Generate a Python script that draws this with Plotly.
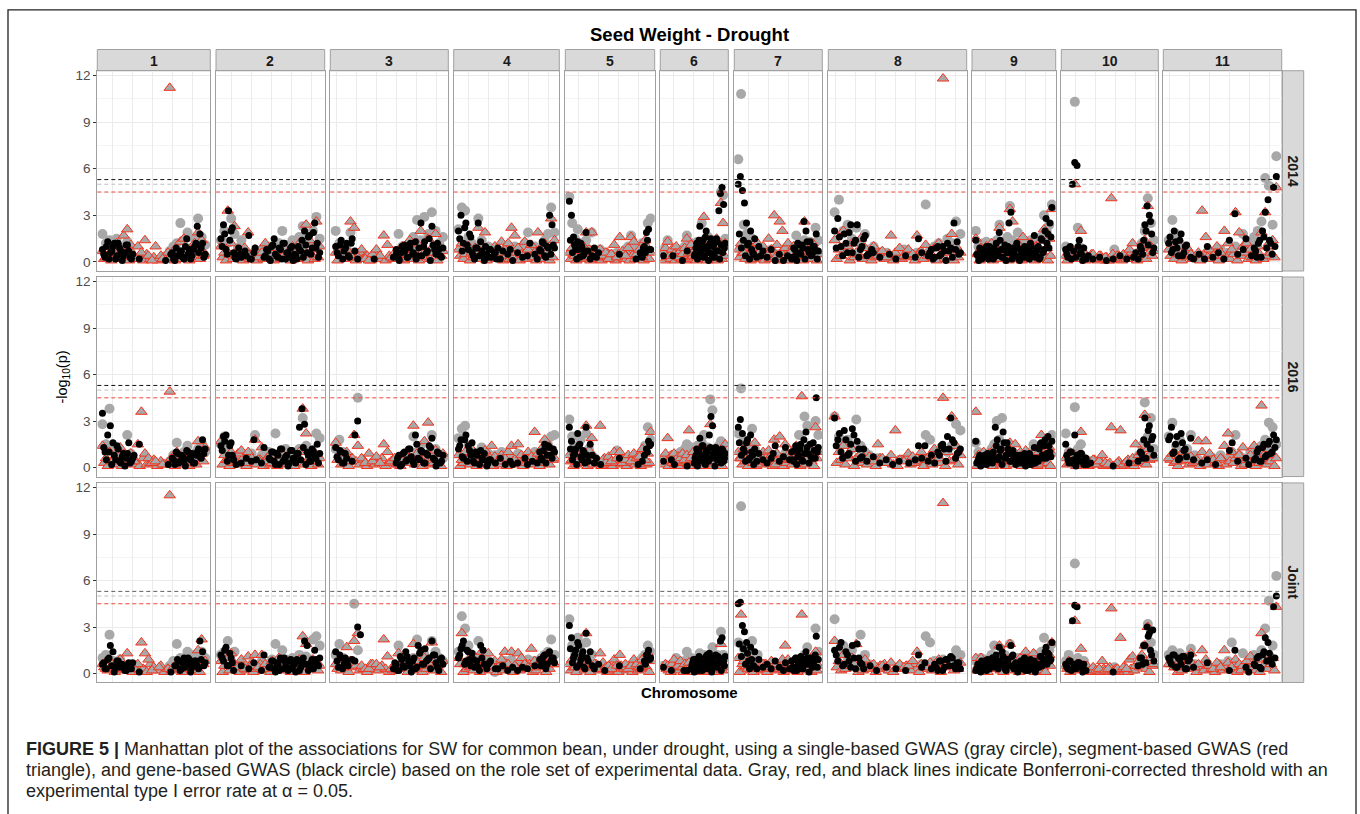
import plotly.graph_objects as go

_ = None  # no marker at this position

# ---------------------------------------------------------------- data
CHROMOSOMES = ["1", "2", "3", "4", "5", "6", "7", "8", "9", "10", "11"]
ENVIRONMENTS = ["2014", "2016", "Joint"]
Y_TICKS = [0, 3, 6, 9, 12]
THRESHOLD_GENE = 5.3      # black dashed line
THRESHOLD_SINGLE = 5.0    # gray dashed line
THRESHOLD_SEGMENT = 4.5   # red dashed line

# -log10(p) x 10, evenly spaced along each chromosome; _ = no point
GENE_2014 = [
    [8,3,13,6,10,2,12,7,4,11, 7,2,_,_,2,_,_,_,_,_, _,_,_,_,1,_,5,2,9,4, 7,2,15,8,4,10,23,18,12,5],
    [15,24,8,33,20,6,2,9,3,_, 4,17,2,6,_,_,_,3,8,2, 10,15,4,9,2,12,6,3,10,5, 2,8,14,20,6,17,9,25,12,6],
    [10,4,14,7,12,3,15,7,2,_, _,_,_,_,2,_,_,_,_,_, _,3,8,2,6,11,3,9,5,13, 4,25,10,6,15,23,8,12,4,9],
    [20,30,12,25,8,16,4,9,25,13, 5,10,3,8,_,6,9,2,7,_, 5,8,1,_,6,_,3,_,4,12, _,5,2,8,13,4,10,30,24,9],
    [39,30,16,8,13,3,10,5,19,7, 2,4,9,3,6,_,_,_,_,_, _,_,_,_,5,_,_,_,_,_, _,_,2,_,6,3,10,19,21,8],
    [4,_,_,_,_,_,4,_,_,_, _,_,1,_,_,7,_,_,_,_, 5,12,3,23,8,14,4,20,10,6, 15,3,12,7,13,33,44,48,37,12],
    [50,55,46,38,25,12,20,6,15,3, 10,4,7,_,3,_,8,_,1,_, 5,_,1,_,4,_,2,9,4,12, 6,11,26,20,8,13,5,10,18,7],
    [20,28,10,18,6,24,12,24,8,15, 4,_,6,_,3,_,_,5,_,2, _,_,4,_,_,3,15,6,_,4, 8,3,10,5,7,12,9,25,13,6],
    [14,4,9,2,6,8,3,10,5,2, 7,4,19,8,3,11,6,25,32,9, 4,12,2,8,5,10,3,7,12,4, 17,6,10,3,14,8,28,18,25,35],
    [8,3,10,50,64,62,14,5,9,2, 4,_,2,_,_,3,_,_,1,_, _,2,_,_,4,_,_,2,_,_, 3,6,2,10,5,24,36,30,18,9],
    [12,6,20,9,14,4,10,_,3,2, _,5,_,2,10,_,3,_,6,_, 2,_,14,_,31,5,_,8,15,_, 4,9,3,14,20,32,40,12,48,55],
]
# further gene-based points in the dense clusters (between the positions above)
GENE_2014_DENSE = [
    [5,10,2,7,12,4,9,1,6,11,3,5, *[_]*14, 6,1,4,7,3,10,5,2,8,12,6,9,3],
    [10,18,5,14,22, 3,_,5,_,7,_,2,_,9, _,_,_, 4,7,1,11,5,3,8,12,2,6,9,1,4,10,7,3, 11,16,5,19,9,3],
    [6,11,2,9,4,12, *[_]*15, 5,1,10,7,3,12,6,2,9,4,13,7,1,11,5,8,3],
    [15,7,22,11,18, 6,2,9,4,7,1,5,8,3,6,2, *[_]*17, 7,12,3,9,5,11],
    [14,6,11,2,8,12,4,7, *[_]*26, 4,9,6,14,8],
    [*[_]*19, 4,9,2,14,6,11,3,16,8,1,12,5,10,3,15,7,2,11,6,9],
    [18,9,14,4,11,2,8,5, *[_]*18, 3,8,1,11,5,9,2,13,6,4,10,7,2],
    [9,16,4,12,19,6,14,3,10,17,5,8, *[_]*17, 6,2,9,4,10,1,7,3,8,5],
    [5,1,8,3,6,10,2,7,4,9, 12,5,14,3,8,1,10,6,2,7, 4,9,1,6,3,8,5,2,10,6, 3,8,2,15,6,20,12,9,16],
    [5,9,2,7,3,10,6,1, *[_]*25, 8,14,20,11,26,6],
    [16,8,13,4,18,6,11, *[_]*24, 7,12,3,16,9,14,5,10],
]
SINGLE_2014 = [
    [18,12,14,10,15,8,9,13,6,_, _,3,_,_,_,_,_,_,4,7, 10,12,25,14,19,9,15,28,16,11],
    [14,20,12,28,18,9,14,6,_,5, _,_,8,_,10,6,9,12,20,11, 8,14,10,16,23,18,12,20,29,15],
    [20,12,10,8,19,6,_,4,_,_, _,_,_,_,_,3,_,18,10,8, 12,16,27,14,29,18,32,20,12,16],
    [21,35,33,16,12,10,28,14,8,10, 6,9,5,7,4,8,5,10,6,8, 12,19,8,10,6,9,14,18,35,19],
    [42,25,15,21,12,9,14,8,19,6, 4,8,_,_,3,5,_,6,4,_, 8,10,17,9,6,10,12,8,25,28],
    [8,5,14,6,_,3,8,_,5,_, 10,17,6,12,8,10,13,9,25,14, 10,16,12,8,14,10,12,45,43,15],
    [66,108,24,18,12,15,8,10,5,6, 4,_,8,_,5,_,3,_,6,_, 8,17,12,6,14,10,13,9,22,14],
    [32,40,20,24,15,22,12,18,8,10, 5,_,6,_,4,_,8,_,4,6, 5,37,8,10,12,9,15,12,26,18],
    [20,10,8,12,13,6,9,10,14,24, 12,8,16,36,14,9,19,8,12,10, 7,14,9,12,8,16,30,20,24,37],
    [10,6,8,103,22,9,5,_,3,_, _,_,2,_,_,_,8,_,_,3, _,_,4,_,6,12,20,41,25,14],
    [14,27,18,12,10,6,_,4,_,_, 3,_,5,_,8,_,6,_,10,_, 18,8,12,16,20,26,54,49,24,68],
]
SEGMENT_2014 = [
    [7,3,10,6,12,8,17,21,11,4, 10,6,14,4,1,10,_,2,_,112, 7,5,13,15,6,9,12,19,14,5],
    [10,6,33,12,23,8,5,9,19,4, 8,3,6,12,5,9,4,7,3,8, 6,10,4,12,9,24,14,8,26,10],
    [6,10,4,8,26,22,3,8,2,1, 5,8,4,17,11,3,6,2,10,5, 14,8,12,20,6,15,9,18,10,7],
    [8,12,5,10,6,9,22,11,19,7, 4,10,6,13,8,12,22,17,9,5, 13,8,11,6,19,9,12,7,28,14],
    [6,9,4,12,7,10,19,8,19,5, 3,8,4,6,2,5,11,3,16,7, 4,9,16,13,5,8,3,14,9,6],
    [6,9,13,4,8,5,10,3,7,5, 9,15,6,11,4,8,10,7,12,29, 9,14,8,12,10,15,11,38,25,12],
    [8,12,6,10,4,9,5,12,7,10, 6,15,8,30,11,26,20,9,12,6, 10,5,8,4,26,9,6,12,8,5],
    [14,8,20,10,12,6,15,9,5,10, 4,7,3,17,6,9,4,8,5,17, 7,11,6,9,12,118,8,18,10,6],
    [15,6,9,4,10,7,12,5,8,22, 6,10,7,34,26,8,12,5,16,9, 7,12,6,10,8,14,21,9,15,34],
    [4,8,6,50,9,20,6,3,2,5, 2,4,2,3,1,41,2,4,3,5, 2,8,12,4,6,9,14,36,10,7],
    [8,12,6,10,4,9,5,_,6,33, 16,8,4,10,6,20,12,8,32,19, 10,12,8,6,10,19,32,12,14,48],
]
# low-lying segment-based points (between the positions above)
SEGMENT_2014_DENSE = [
    [2,4,1,3,5,2,6,1,3,2,4,1,5,2,3,1,4,2,6,3,1,5,2,4,1,3,6,2,4],
    [3,1,5,2,4,6,1,3,2,5,1,4,2,6,3,1,4,2,5,3,1,6,2,4,3,1,5,2,3],
    [1,4,2,5,3,1,6,2,4,1,3,5,2,1,4,2,6,3,1,5,2,4,1,3,5,2,6,1,4],
    [4,2,6,1,3,5,2,4,1,6,3,2,5,1,4,2,3,6,1,5,2,4,3,1,6,2,4,1,3],
    [2,5,1,4,2,6,3,1,5,2,4,1,3,6,2,4,1,5,3,2,6,1,4,2,5,3,1,4,2],
    [1,3,5,2,4,1,6,3,2,5,1,4,2,3,6,1,4,2,5,3,1,4,6,2,3,1,5,2,4],
    [3,6,2,4,1,5,2,3,6,1,4,2,5,3,1,6,2,4,1,3,5,2,4,1,6,3,2,5,1],
    [2,4,6,1,3,5,2,4,1,3,6,2,5,1,4,2,3,5,1,6,2,4,3,1,5,2,6,1,3],
    [5,1,3,6,2,4,1,5,3,2,4,6,1,3,5,2,4,1,6,2,3,5,1,4,2,6,3,1,4],
    [1,5,3,2,6,4,1,3,5,2,1,4,2,3,1,5,2,4,1,3,2,6,4,1,5,3,2,6,4],
    [4,2,5,1,3,6,2,4,1,5,3,2,6,1,4,3,2,5,1,4,6,2,3,1,5,2,4,6,3],
]

GENE_2016 = [
    [35,10,21,27,16,5,12,3,9,6, 16,4,8,_,15,_,_,_,_,_, _,_,_,_,_,2,_,5,10,3, 8,4,11,6,9,3,10,7,18,12],
    [14,20,21,8,16,5,2,_,3,_, 6,_,4,18,5,_,3,13,_,6, 10,4,9,2,12,5,8,3,11,6, 9,26,38,28,10,4,12,7,15,9],
    [13,5,10,3,6,_,4,21,30,_, _,_,_,_,_,_,_,_,_,_, _,_,3,8,2,10,5,12,4,21, 6,11,3,9,14,19,5,10,3,8],
    [12,18,6,21,14,8,4,10,_,11, 5,_,3,5,_,3,_,6,_,2, _,4,2,_,3,_,_,6,2,_, 4,_,3,10,5,15,8,13,6,10],
    [26,17,8,12,22,15,5,10,26,4, 15,8,3,6,_,2,_,_,_,_, _,_,_,_,6,_,_,_,_,_, _,_,_,2,_,4,8,12,17,15],
    [4,_,_,_,_,5,_,2,_,_, _,_,_,_,_,1,_,_,_,_, 6,12,4,19,8,14,3,11,6,21, 33,27,9,13,5,10,7,12,4,9],
    [26,31,22,10,16,5,21,8,12,4, 9,_,5,_,3,_,6,9,14,_, 4,_,7,13,_,5,10,4,14,7, 12,5,18,23,9,15,6,11,45,13],
    [32,18,10,24,8,15,21,17,6,12, 4,_,7,_,3,_,5,_,2,_, 4,_,_,3,_,5,14,6,14,4, 8,3,10,14,12,20,32,16,9,12],
    [17,4,8,2,6,3,9,5,4,10, 26,18,7,12,23,6,16,9,4,11, 5,8,3,6,4,9,5,2,7,3, 13,6,4,15,8,14,6,20,10,17],
    [15,5,10,3,21,8,4,9,2,6, _,3,_,_,_,_,_,_,_,_, _,1,_,_,_,_,_,_,3,_, _,_,4,10,6,32,15,27,18,8],
    [18,26,10,20,6,16,12,_,19,5, _,_,3,_,5,_,_,2,_,_, _,_,11,16,_,4,_,_,6,2, _,5,10,4,13,7,15,9,21,18],
]
GENE_2016_DENSE = [
    [13,5,10,2,8,14,4,7,1,9,3,6, *[_]*14, 6,2,9,4,7,1,10,5,3,8,12,6,9],
    [11,17,4,14,8, *[_]*14, 5,10,2,8,12,4,7,1,11,6,3,9,5,13,2,8,4,10,6,3],
    [7,11,3,9, *[_]*18, 6,1,9,4,12,7,2,15,5,10,3,8,13,6,1,9,4],
    [14,7,18,4,11,16, 3,8,2,6,9,1,5, *[_]*20, 6,11,3,14,8,12],
    [12,5,9,2,14,7,11,3,8, *[_]*28, 10,14],
    [*[_]*19, 3,8,1,11,5,14,7,2,10,4,13,6,9,1,12,5,8,3,11,6],
    [16,8,12,4,18,6,10,2, *[_]*18, 5,11,2,8,15,4,9,13,3,7,16,6,10],
    [14,22,6,18,9,25,4,12,7, *[_]*23, 8,15,4,12,18,6,10],
    [3,6,1,4,8,2,5,7,3,6, 14,5,11,2,16,8,12,4,9, 6,2,5,8,3,7,1,4,9,2,6,3,5, 12,16,6,18,9,14,7],
    [8,3,10,5,1,7,9,4,6,2, *[_]*23, 9,18,6,24,12,20],
    [20,9,15,5,22,11,7, *[_]*24, 6,12,4,15,8,17,10,13],
]
SINGLE_2016 = [
    [28,15,38,12,8,10,6,21,9,_, _,_,_,_,_,_,_,_,_,4, 8,16,6,10,14,7,9,12,16,10],
    [15,20,12,8,_,4,_,6,_,9, 21,5,8,_,10,6,22,9,7,12, 6,10,8,12,32,14,9,10,22,19],
    [12,18,10,6,4,_,45,_,_,_, _,_,_,_,_,_,_,4,_,8, 5,20,10,14,6,9,21,12,8,6],
    [19,25,27,14,10,8,5,13,6,9, 4,8,5,10,6,4,7,5,9,6, 4,8,6,10,5,8,12,15,20,21],
    [31,20,14,10,18,9,22,12,8,6, 4,_,_,3,_,_,_,11,_,5, _,_,_,6,_,8,10,14,26,18],
    [6,_,4,_,8,_,5,_,10,6, 12,15,8,13,10,9,14,12,16,21, 10,13,44,37,12,10,14,17,11,8],
    [22,51,18,14,10,25,12,8,6,_, 5,_,8,_,6,_,4,9,_,6, 8,12,21,10,33,27,14,12,30,21],
    [33,20,15,18,12,31,14,10,8,_, 6,_,4,_,_,5,_,6,_,4, 8,21,18,9,6,12,10,14,28,24],
    [16,10,6,8,5,9,12,15,30,18, 32,14,10,8,6,9,5,8,6,4, 7,10,15,6,9,5,12,14,18,21],
    [22,10,8,39,12,15,6,_,4,_, _,_,_,_,_,_,_,_,_,_, _,_,_,4,8,14,42,20,32,12],
    [20,29,14,18,10,12,21,8,5,_, 4,_,6,_,8,_,5,10,21,8, 6,4,10,12,10,14,18,29,26,15],
]
SEGMENT_2016 = [
    [14,6,10,4,8,13,5,7,9,4, 15,36,9,6,3,4,_,2,_,49, 3,10,5,7,4,8,6,17,9,13],
    [17,8,5,10,4,9,11,3,10,6, 18,5,13,4,7,3,8,5,9,4, 6,8,5,10,38,22,6,11,8,6],
    [16,8,5,10,4,21,14,6,3,9, 4,7,3,15,10,4,6,2,5,8, 6,27,9,5,17,29,8,11,6,9],
    [8,5,10,6,12,4,9,6,11,5, 14,7,4,8,6,10,14,5,15,8, 6,10,7,23,9,12,18,8,10,6],
    [8,5,10,4,7,9,27,11,19,6, 4,27,5,3,7,4,10,6,10,3, 5,8,4,9,6,7,12,5,9,23],
    [6,9,19,5,8,9,4,7,6,9, 5,8,24,6,10,4,8,12,6,9, 11,7,28,10,8,12,6,9,7,15],
    [10,6,12,8,5,9,16,7,4,10, 6,11,8,18,9,20,6,15,8,5, 10,14,7,46,9,6,12,8,26,10],
    [33,10,14,8,12,6,9,5,7,4, 15,6,3,8,24,5,4,9,7,6, 10,5,8,12,6,45,10,33,14,8],
    [36,8,5,10,6,9,4,12,7,10, 5,8,6,16,9,15,6,10,4,11, 7,5,9,6,10,21,8,12,13,9],
    [6,9,4,8,5,23,6,3,2,5, 2,4,8,3,2,26,1,3,24,2, 4,3,6,15,8,10,34,12,9,6],
    [6,9,4,8,10,5,7,4,17,10, 17,9,5,3,6,14,22,10,6,8, 13,5,8,14,6,40,9,12,8,6],
]
SEGMENT_2016_DENSE = [
    [3,1,4,2,6,1,5,3,2,4,1,6,2,3,5,1,4,2,3,6,1,4,2,5,1,3,2,6,4],
    [2,5,1,3,4,2,6,1,4,3,2,5,1,6,2,4,1,3,5,2,4,1,6,3,2,5,1,4,2],
    [5,2,3,1,6,4,2,5,1,3,2,4,6,1,3,5,2,1,4,3,6,2,5,1,4,2,3,5,1],
    [1,3,6,2,4,1,5,2,3,6,1,4,2,5,1,3,4,2,6,1,3,5,2,4,1,6,3,2,5],
    [4,1,2,5,3,6,1,4,2,5,3,1,6,2,4,1,3,5,2,6,1,4,3,2,5,1,6,2,3],
    [2,6,1,4,3,2,5,1,6,3,4,2,1,5,3,6,2,4,1,3,5,2,6,1,4,2,3,1,5],
    [6,2,4,1,5,3,1,6,2,4,3,5,1,2,6,4,1,3,5,2,4,6,1,3,2,5,4,1,6],
    [3,5,2,6,1,4,3,2,5,1,6,3,4,2,1,5,6,2,3,4,1,5,2,6,3,1,4,5,2],
    [1,4,6,3,2,5,1,4,6,2,3,1,5,4,2,6,3,1,4,5,2,3,6,1,2,4,5,3,1],
    [2,3,5,1,4,6,2,1,3,5,2,4,1,2,3,1,2,4,1,3,5,2,1,6,3,4,2,5,6],
    [5,3,1,4,6,2,3,5,1,4,2,6,3,1,5,2,4,3,6,1,2,5,4,1,3,6,2,4,1],
]

GENE_JOINT = [
    [6,3,9,18,14,4,8,5,_,2, 7,3,_,_,1,_,_,_,_,_, _,_,_,_,_,_,1,_,5,8, 3,10,6,9,4,8,5,21,14,7],
    [12,8,17,5,10,2,_,_,5,_, _,3,_,7,_,_,2,12,_,4, 8,3,7,2,9,10,4,8,3,6, 9,2,7,21,18,5,9,15,6,10],
    [14,4,10,6,8,_,9,8,30,25, _,_,_,_,_,_,_,_,_,_, _,3,6,2,9,4,11,5,8,3, 18,15,6,8,10,21,12,4,9,6],
    [10,16,21,8,14,5,9,_,4,18, 15,_,6,8,_,3,3,_,5,_, 2,_,4,_,2,_,4,_,3,_, _,5,_,9,8,12,6,14,10,7],
    [31,23,10,15,20,6,12,4,26,8, 14,5,3,_,6,_,_,2,_,_, _,_,_,_,5,_,_,_,_,_, _,_,_,_,3,_,8,12,15,10],
    [4,_,_,_,_,2,_,_,_,_, _,_,_,2,_,2,_,_,5,9, 3,7,2,10,5,8,3,11,6,13, 4,9,6,12,5,10,21,23,8,11],
    [45,46,31,27,20,8,17,5,14,3, 9,_,4,_,6,_,3,_,8,_, 4,_,2,7,_,3,8,2,10,5, 7,3,9,14,6,10,4,8,24,9],
    [15,8,20,6,12,4,10,19,7,3, _,5,_,2,_,_,4,_,_,3, _,_,2,_,_,_,12,4,7,_, 3,6,2,8,4,9,11,5,7,3],
    [2,6,3,8,4,5,9,3,7,10, 4,8,17,6,11,3,9,5,18,12, 6,4,5,8,3,10,6,2,9,4, 8,3,6,11,5,9,17,13,8,20],
    [6,3,8,34,44,43,7,4,6,2, _,_,_,_,_,_,_,_,_,_, _,1,_,_,_,_,_,_,_,_, _,_,5,10,6,18,30,26,12,8],
    [10,6,12,4,9,11,3,8,12,4, _,_,_,_,7,_,_,_,_,_, _,_,2,_,15,_,_,_,4,1, _,6,10,4,12,23,20,9,43,50],
]
GENE_JOINT_DENSE = [
    [7,3,10,5,1,8,4, 6,2,5,3,7, *[_]*15, 5,9,2,7,4,10,1,6,8,3,9,5],
    [10,15,5,13,7, *[_]*14, 4,8,1,6,10,3,7,2,9,5,1,8,4,10,6,2,7,3,9,5],
    [8,12,3,10,5, *[_]*16, 7,2,11,5,14,8,1,10,4,13,6,16,9,3,12,7,2,10],
    [12,18,6,15,9,13, 4,8,2,10,6,3,7, *[_]*20, 5,11,3,13,8,10],
    [16,7,12,4,18,9,14,3,10, *[_]*27, 6,12,9],
    [*[_]*17, 3,7,1,9,4,11,6,2,8,5,12,3,9,1,10,6,4,11,7,2,8,5],
    [19,11,16,6,13,3,9,5, *[_]*18, 4,9,2,7,11,3,6,10,1,8,5,12,4],
    [12,17,5,14,8,18,3,10,6, *[_]*22, 4,8,2,9,5,10,3,7],
    [3,6,1,5,8,2,7,4,10,5, 12,3,8,14,6,2,9,5,11,3, 7,1,6,4,9,2,8,5,3,7, 1,6,4,11,8,14,6,12,9],
    [4,8,2,6,3,7,5,1, *[_]*25, 10,18,7,24,15,28],
    [8,12,4,10,6,11,3,9, *[_]*23, 5,11,3,14,8,13,6,10],
]
SINGLE_JOINT = [
    [10,12,25,8,6,9,4,_,_,_, _,_,_,_,_,_,_,_,_,5, 8,19,10,6,14,9,12,8,14,10],
    [12,14,21,8,14,5,_,4,_,6, _,4,8,_,6,9,19,8,15,9, 6,10,7,12,8,11,9,22,24,18],
    [12,19,10,6,8,45,15,_,_,_, _,_,_,_,_,_,_,18,6,9, 5,10,22,8,12,9,21,14,10,8],
    [14,37,29,18,12,10,21,9,6,8, 5,1,6,4,8,5,9,6,4,7, 5,9,6,8,5,10,12,14,22,12],
    [35,18,12,23,15,10,20,8,12,6, 4,_,_,3,_,_,_,5,_,_, _,_,3,_,5,8,10,12,18,14],
    [5,_,4,_,6,_,10,_,6,4, 8,14,6,10,7,9,8,13,10,12, 9,11,8,17,10,12,9,27,12,10],
    [20,108,16,12,10,21,8,12,6,_, 4,_,6,_,5,_,3,_,5,_, 6,9,5,10,12,17,8,10,29,14],
    [35,14,18,10,15,8,25,12,6,_, 4,_,3,_,_,5,_,_,4,_, 6,24,20,8,5,9,7,10,15,12],
    [8,5,10,6,9,4,12,18,8,10, 6,12,9,19,8,6,10,5,8,9, 6,10,8,12,9,14,23,12,15,19],
    [8,12,6,71,10,5,8,3,_,_, _,_,_,_,_,_,4,_,_,_, _,_,_,3,6,10,18,32,20,12],
    [12,15,10,13,8,11,16,6,4,_, 5,_,3,_,6,_,8,20,5,_, 13,6,9,12,10,15,29,47,18,63],
]
SEGMENT_JOINT = [
    [6,3,8,4,6,9,4,13,5,3, 6,20,13,9,2,_,4,_,_,115, 4,6,3,8,5,7,4,15,22,8],
    [8,5,10,13,6,4,9,3,11,5, 12,4,12,6,3,8,5,10,4,7, 3,8,5,9,24,19,6,9,7,5],
    [6,9,4,17,8,21,26,5,3,3, 6,6,4,22,11,3,5,13,4,8, 6,19,8,5,10,7,20,9,6,8],
    [10,26,6,9,5,8,4,14,6,13, 5,8,4,9,14,6,14,5,13,10, 6,4,16,8,5,9,11,7,10,6],
    [6,9,4,8,5,10,26,7,4,6, 3,13,7,4,5,3,9,5,12,4, 6,3,5,9,6,4,9,5,13,8],
    [4,6,5,3,6,9,4,5,8,4, 6,3,7,5,4,6,3,5,4,7, 5,3,6,4,8,5,7,19,6,4],
    [10,38,8,5,9,4,7,3,5,6, 6,4,8,3,6,4,9,18,9,5, 7,4,6,38,5,8,4,6,14,5],
    [21,8,12,6,10,19,5,9,4,6, 3,5,4,7,3,6,4,5,8,14, 6,4,7,5,9,110,6,8,5,7],
    [10,5,10,4,7,5,9,6,8,18, 7,5,9,19,6,8,5,10,6,14, 5,8,13,6,9,5,10,8,12,20],
    [5,8,4,34,6,16,3,5,2,4, 2,3,8,2,3,42,2,3,23,4, 3,9,11,5,8,12,18,30,10,6],
    [6,9,4,8,10,5,13,4,6,15, 9,5,3,7,4,15,7,4,9,6, 5,8,11,6,9,26,12,8,10,43],
]
SEGMENT_JOINT_DENSE = [
    [4,2,5,1,3,6,2,4,1,5,2,3,1,6,4,2,5,1,3,2,4,6,1,5,3,2,4,1,6],
    [1,5,2,6,3,1,4,2,5,1,3,6,2,4,1,5,3,2,6,4,1,3,5,2,1,4,6,3,2],
    [3,2,6,1,4,5,2,3,1,6,4,2,5,3,1,2,4,6,3,1,5,2,4,1,3,6,2,5,1],
    [6,1,3,4,2,5,1,6,3,2,4,1,5,2,6,3,1,4,2,5,3,6,1,2,4,5,1,3,6],
    [2,4,1,6,5,2,3,1,4,6,2,5,3,1,4,2,6,1,5,3,2,4,1,6,2,3,5,4,1],
    [5,3,2,1,4,6,3,2,5,1,6,2,4,3,1,5,2,6,4,1,3,2,5,4,6,1,3,2,4],
    [1,6,4,3,2,1,5,4,2,6,1,3,5,2,4,6,1,2,3,5,4,1,2,6,3,5,1,4,2],
    [4,2,3,5,6,1,2,4,3,1,5,6,2,1,3,4,5,2,6,1,4,3,2,5,1,6,4,2,3],
    [2,5,6,2,1,3,4,6,5,2,1,4,3,6,2,5,1,3,4,2,6,5,1,3,2,4,1,6,5],
    [3,1,2,6,3,5,4,2,1,3,2,1,3,2,4,1,3,1,2,4,1,3,2,5,4,6,3,1,5],
    [6,4,1,2,5,3,6,1,4,2,5,3,1,6,2,4,3,5,1,2,6,3,4,2,1,5,3,6,2],
]

TITLE = "Seed Weight - Drought"
X_TITLE = "Chromosome"
Y_TITLE = "-log<sub>10</sub>(p)"
CAPTION = [
    "<b>FIGURE 5 |</b> Manhattan plot of the associations for SW for common bean, under drought, using a single-based GWAS (gray circle), segment-based GWAS (red",
    "triangle), and gene-based GWAS (black circle) based on the role set of experimental data. Gray, red, and black lines indicate Bonferroni-corrected threshold with an",
    "experimental type I error rate at \u03b1 = 0.05.",
]

# ---------------------------------------------------------------- layout (pixels)
W, H = 1360, 814
COL_EDGES = [(97.3, 210.3), (216, 324.7), (330.3, 448.3), (453.7, 559.3), (565.3, 654.7),
             (660.3, 728.3), (734.3, 822.3), (828.3, 966.7), (972, 1055.7), (1061.3, 1158.3),
             (1163.3, 1281.7)]
GRID_OFFSETS = [15.4, 15, 6, 15, 13.4, 13.4, 14, 6.7, 13.7, 14.4, 6]
ROW_EDGES = [(68, 269), (275, 475.3), (481.7, 682)]
STRIP_TOP = (46.7, 68)
STRIP_RIGHT = (1282, 1303.7)
Y_RANGE = [-0.58, 12.3]
X_RANGE = [-0.05, 1.05]
FONT = "Liberation Sans, Arial, Helvetica, sans-serif"
BORDER = "#a0a0a0"
GRID = "#ebebeb"
LINE_GENE = ["#111111", "#111111", "#5f5f5f"]
LINE_SINGLE = "#bfbfbf"
LINE_SEGMENT = "#ef4a3a"


def px(x):
    return x / W


def py(y):
    return 1 - y / H


DATA = {
    "2014": (SINGLE_2014, SEGMENT_2014_DENSE, SEGMENT_2014, GENE_2014, GENE_2014_DENSE),
    "2016": (SINGLE_2016, SEGMENT_2016_DENSE, SEGMENT_2016, GENE_2016, GENE_2016_DENSE),
    "Joint": (SINGLE_JOINT, SEGMENT_JOINT_DENSE, SEGMENT_JOINT, GENE_JOINT, GENE_JOINT_DENSE),
}
BLACK = dict(symbol="circle", size=7, color="#000000", line=dict(width=0))
TRIANGLE = dict(symbol="triangle-up", size=10, color="#a8a8a8", line=dict(color="#f3321c", width=1))
MARKERS = [
    dict(symbol="circle", size=10, color="#a8a8a8", line=dict(width=0)),
    TRIANGLE,
    TRIANGLE,
    BLACK,
    BLACK,
]
CENTRED = [False, True, False, False, True]   # dense lists sit half a step between positions

fig = go.Figure()
layout = {}
shapes = []
annotations = []

for r, env in enumerate(ENVIRONMENTS):
    y_top, y_bot = ROW_EDGES[r]
    for c, chrom in enumerate(CHROMOSOMES):
        k = r * len(CHROMOSOMES) + c + 1
        xn = "x" if k == 1 else f"x{k}"
        yn = "y" if k == 1 else f"y{k}"
        xl, xr = COL_EDGES[c]
        wpx = xr - xl
        scale = (X_RANGE[1] - X_RANGE[0]) / wpx
        layout["xaxis" if k == 1 else f"xaxis{k}"] = dict(
            domain=[px(xl), px(xr)], anchor=yn, range=X_RANGE,
            showgrid=True, gridcolor=GRID, gridwidth=1,
            tickmode="linear", tick0=X_RANGE[0] + GRID_OFFSETS[c] * scale, dtick=20 * scale,
            showticklabels=False, ticks="", zeroline=False,
            showline=True, mirror=True, linecolor=BORDER, linewidth=1,
        )
        layout["yaxis" if k == 1 else f"yaxis{k}"] = dict(
            domain=[py(y_bot), py(y_top)], anchor=xn, range=Y_RANGE,
            tickmode="array", tickvals=Y_TICKS, ticktext=[str(t) for t in Y_TICKS],
            showgrid=True, gridcolor=GRID, gridwidth=1,
            minor=dict(tick0=0, dtick=1.5, showgrid=True, gridcolor="#f4f4f4", gridwidth=0.6),
            showticklabels=(c == 0), ticks="outside" if c == 0 else "",
            ticklen=3, tickcolor="#333333", tickwidth=1,
            tickfont=dict(family=FONT, size=13.5, color="#4d4d4d"),
            zeroline=False, showline=True, mirror=True, linecolor=BORDER, linewidth=1,
        )
        for vals, mk, centred in zip(DATA[env], MARKERS, CENTRED):
            series = vals[c]
            n = len(series)
            if centred:
                pos = [(i + 0.5) / n for i in range(n)]
            else:
                pos = [i / (n - 1) for i in range(n)]
            xs = [p for p, v in zip(pos, series) if v is not None]
            ys = [v / 10 for v in series if v is not None]
            fig.add_trace(go.Scatter(x=xs, y=ys, mode="markers", xaxis=xn, yaxis=yn,
                                     marker=mk, showlegend=False, hoverinfo="skip"))
        for val, col in ((THRESHOLD_GENE, LINE_GENE[r]), (THRESHOLD_SINGLE, LINE_SINGLE),
                         (THRESHOLD_SEGMENT, LINE_SEGMENT)):
            shapes.append(dict(type="line", xref=f"{xn} domain", yref=yn, x0=0, x1=1,
                               y0=val, y1=val, line=dict(color=col, width=1, dash="4px,3px")))

# strips
for c, chrom in enumerate(CHROMOSOMES):
    xl, xr = COL_EDGES[c]
    shapes.append(dict(type="rect", xref="paper", yref="paper", x0=px(xl), x1=px(xr),
                       y0=py(STRIP_TOP[1]), y1=py(STRIP_TOP[0]),
                       fillcolor="#d9d9d9", line=dict(color=BORDER, width=1), layer="below"))
    annotations.append(dict(text=f"<b>{chrom}</b>", x=px((xl + xr) / 2), y=py(sum(STRIP_TOP) / 2 + 0.5),
                            xref="paper", yref="paper", xanchor="center", yanchor="middle",
                            showarrow=False, font=dict(family=FONT, size=14, color="#1a1a1a")))
for r, env in enumerate(ENVIRONMENTS):
    y_top, y_bot = ROW_EDGES[r]
    shapes.append(dict(type="rect", xref="paper", yref="paper", x0=px(STRIP_RIGHT[0]), x1=px(STRIP_RIGHT[1]),
                       y0=py(y_bot), y1=py(y_top),
                       fillcolor="#d9d9d9", line=dict(color=BORDER, width=1), layer="below"))
    annotations.append(dict(text=f"<b>{env}</b>", x=px(sum(STRIP_RIGHT) / 2 + 0.5), y=py((y_top + y_bot) / 2),
                            xref="paper", yref="paper", xanchor="center", yanchor="middle",
                            showarrow=False, textangle=90,
                            font=dict(family=FONT, size=14, color="#1a1a1a")))

# titles
annotations.append(dict(text=f"<b>{TITLE}</b>", x=px(689.5), y=py(32), xref="paper", yref="paper",
                        xanchor="center", yanchor="middle",
                        showarrow=False, font=dict(family=FONT, size=18.5, color="#000000")))
annotations.append(dict(text=f"<b>{X_TITLE}</b>", x=px(689.3), y=py(692), xref="paper", yref="paper",
                        xanchor="center", yanchor="middle",
                        showarrow=False, font=dict(family=FONT, size=15, color="#000000")))
annotations.append(dict(text=Y_TITLE, x=px(63), y=py(376), xref="paper", yref="paper", textangle=-90,
                        xanchor="center", yanchor="middle",
                        showarrow=False, font=dict(family=FONT, size=14.5, color="#000000")))

# caption
for i, line in enumerate(CAPTION):
    annotations.append(dict(text=line, x=px(24), y=py(749 + 21 * i), xref="paper", yref="paper",
                            xanchor="left", yanchor="middle", showarrow=False,
                            font=dict(family=FONT, size=18, color="#231f20")))

# outer frame
shapes.append(dict(type="rect", xref="paper", yref="paper", x0=px(8), x1=px(1356), y0=-0.05, y1=py(7),
                   line=dict(color="#231f20", width=1.3), fillcolor="rgba(0,0,0,0)"))

fig.update_layout(
    width=W, height=H, autosize=False, margin=dict(l=0, r=0, t=0, b=0),
    paper_bgcolor="white", plot_bgcolor="white",
    shapes=shapes, annotations=annotations, **layout,
)
fig.write_html("out.html")
